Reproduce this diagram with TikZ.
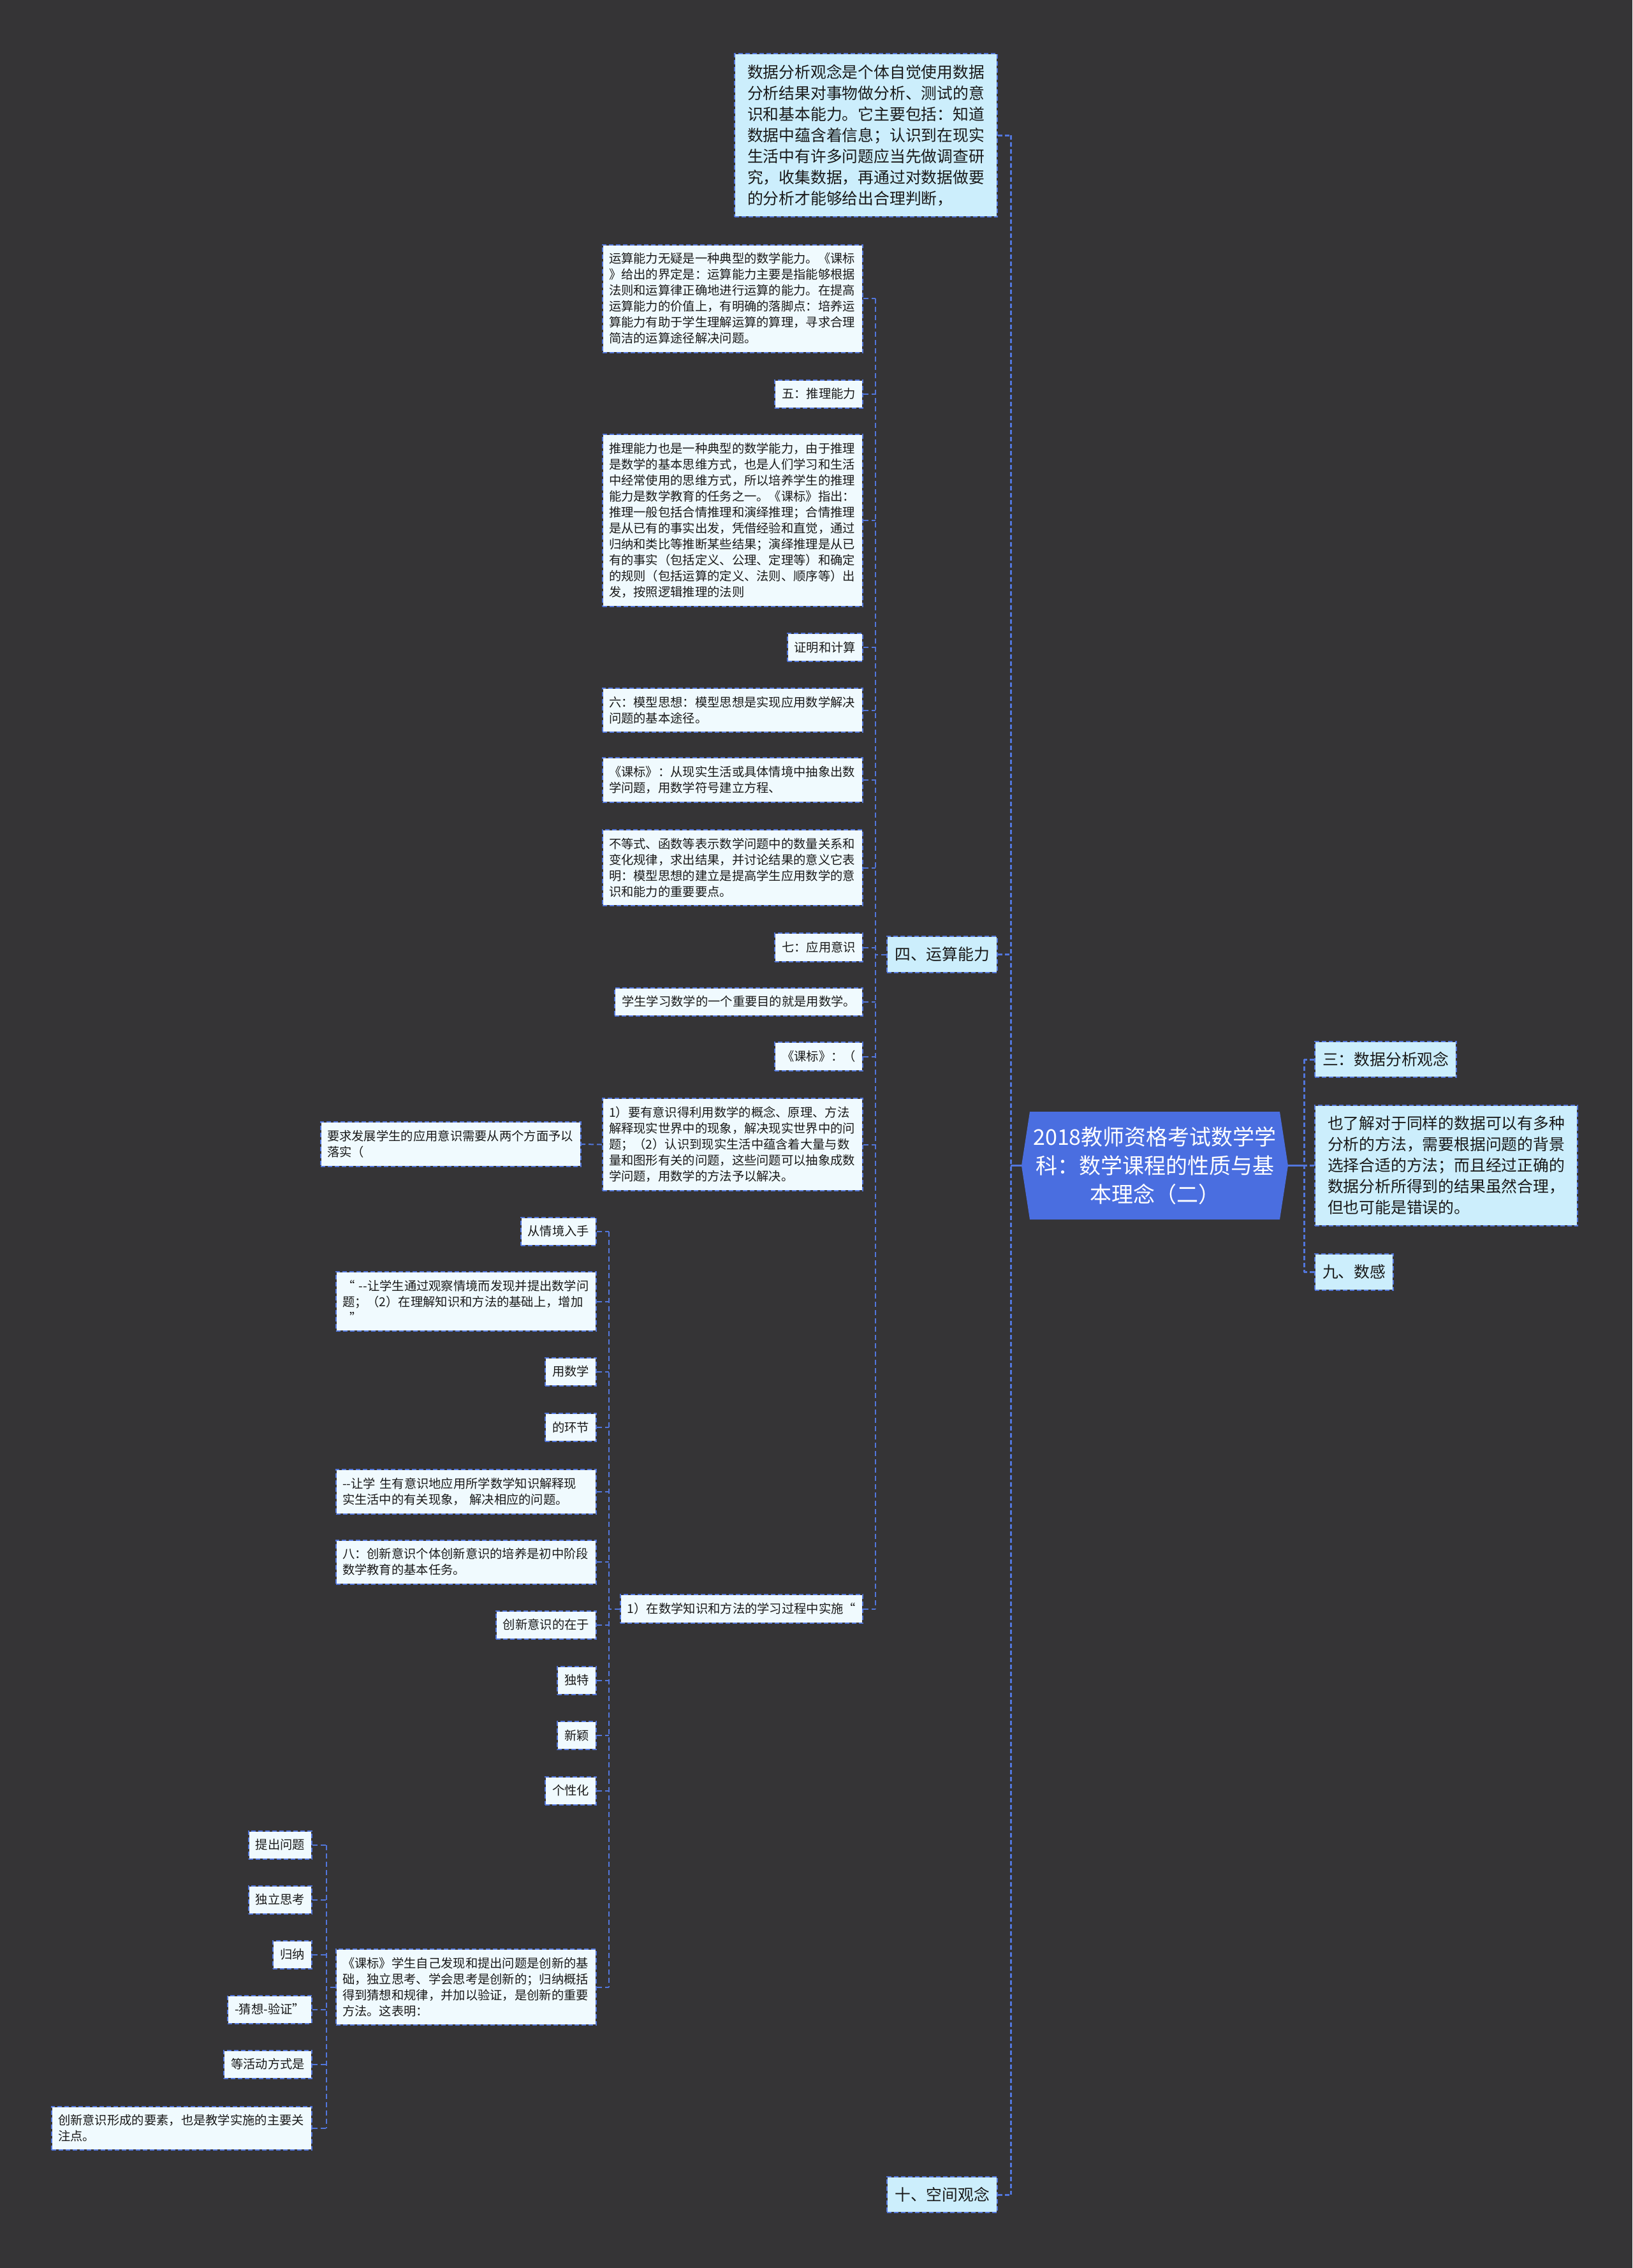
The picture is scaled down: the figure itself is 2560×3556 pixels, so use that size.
\documentclass[tikz,border=0pt]{standalone}
\usepackage{fontspec}
\setmainfont{Noto Sans CJK SC}
\definecolor{bgc}{RGB}{53,52,54}
\definecolor{lineblue}{RGB}{82,118,220}
\definecolor{rootblue}{RGB}{74,110,224}
\definecolor{bigfill}{RGB}{204,238,252}
\definecolor{smfill}{RGB}{240,250,254}
\definecolor{txt}{RGB}{25,25,25}
\begin{document}
\begin{tikzpicture}[x=0.5pt,y=-0.5pt,
  boxbase/.style={fill=#1, draw=bgc, line width=1pt, text=txt,
     postaction={draw=lineblue, line width=1pt, dash pattern=on 3.5pt off 2pt}},
  sm/.style={boxbase=smfill, font=\fontsize{9.65}{12.5}\selectfont, inner xsep=5.5pt, inner ysep=6.5pt, minimum height=22pt, align=left},
  smw/.style={sm, text width=194pt, inner xsep=5pt},
  bg/.style={boxbase=bigfill, font=\fontsize{12.4}{16.5}\selectfont, inner xsep=6pt, inner ysep=8.4pt, minimum height=28pt, align=left},
  bgw/.style={bg, text width=186pt, inner xsep=10pt},
  conn/.style={draw=lineblue, line width=1pt, dash pattern=on 4pt off 2.5pt},
  mainconn/.style={draw=lineblue, line width=1.5pt, dash pattern=on 3.5pt off 2pt},
  rootconn/.style={draw=lineblue, line width=1.5pt},
]
\fill[bgc] (0,0) rectangle (2560,3556);
\useasboundingbox (0,0) rectangle (2560,3556);

% trunk coordinates
\coordinate (tL) at (1585,0);
\coordinate (tR) at (2045,0);
\coordinate (tA) at (1373,0);
\coordinate (tC) at (955,0);
\coordinate (tD) at (512,0);

% root
\fill[rootblue] (1602,1827.5) -- (1615,1743) -- (2007,1743) -- (2020,1827.5) -- (2007,1912) -- (1615,1912) -- cycle;
\node[text=white, font=\fontsize{17}{22.5}\selectfont, align=center, minimum width=209pt, inner sep=0pt] (root) at (1811,1827.5) {2018教师资格考试数学学\\科：数学课程的性质与基\\本理念（二）};

% first level, left
\node[bgw, anchor=east] (T0) at (1565,212) {数据分析观念是个体自觉使用数据\\分析结果对事物做分析、测试的意\\识和基本能力。它主要包括：知道\\数据中蕴含着信息；认识到在现实\\生活中有许多问题应当先做调查研\\究，收集数据，再通过对数据做要\\的分析才能够给出合理判断，};
\node[bg, anchor=east] (R4) at (1565,1496.5) {四、运算能力};
\node[bg, anchor=east] (R10) at (1565,3441) {十、空间观念};

% first level, right
\node[bg, anchor=west] (E1) at (2061,1661) {三：数据分析观念};
\node[bgw, anchor=west] (E2) at (2061,1827.5) {也了解对于同样的数据可以有多种\\分析的方法，需要根据问题的背景\\选择合适的方法；而且经过正确的\\数据分析所得到的结果虽然合理，\\但也可能是错误的。};
\node[bg, anchor=west] (E3) at (2061,1994.5) {九、数感};

% children of R4
\node[smw, anchor=east] (A1) at (1354,468) {运算能力无疑是一种典型的数学能力。《课标\\》给出的界定是：运算能力主要是指能够根据\\法则和运算律正确地进行运算的能力。在提高\\运算能力的价值上，有明确的落脚点：培养运\\算能力有助于学生理解运算的算理，寻求合理\\简洁的运算途径解决问题。};
\node[sm, anchor=east] (A2) at (1354,617.5) {五：推理能力};
\node[smw, anchor=east] (A3) at (1354,816) {推理能力也是一种典型的数学能力，由于推理\\是数学的基本思维方式，也是人们学习和生活\\中经常使用的思维方式，所以培养学生的推理\\能力是数学教育的任务之一。《课标》指出：\\推理一般包括合情推理和演绎推理；合情推理\\是从已有的事实出发，凭借经验和直觉，通过\\归纳和类比等推断某些结果；演绎推理是从已\\有的事实（包括定义、公理、定理等）和确定\\的规则（包括运算的定义、法则、顺序等）出\\发，按照逻辑推理的法则};
\node[sm, anchor=east] (A4) at (1354,1015) {证明和计算};
\node[smw, anchor=east] (A5) at (1354,1113.5) {六：模型思想：模型思想是实现应用数学解决\\问题的基本途径。};
\node[smw, anchor=east] (A6) at (1354,1223) {《课标》：从现实生活或具体情境中抽象出数\\学问题，用数学符号建立方程、};
\node[smw, anchor=east] (A7) at (1354,1360.5) {不等式、函数等表示数学问题中的数量关系和\\变化规律，求出结果，并讨论结果的意义它表\\明：模型思想的建立是提高学生应用数学的意\\识和能力的重要要点。};
\node[sm, anchor=east] (A8) at (1354,1485.5) {七：应用意识};
\node[sm, anchor=east] (A9) at (1354,1570.5) {学生学习数学的一个重要目的就是用数学。};
\node[sm, anchor=east] (A10) at (1354,1656.5) {《课标》：（};
\node[smw, anchor=east] (A11) at (1354,1794.5) {1）要有意识得利用数学的概念、原理、方法\\解释现实世界中的现象，解决现实世界中的问\\题；（2）认识到现实生活中蕴含着大量与数\\量和图形有关的问题，这些问题可以抽象成数\\学问题，用数学的方法予以解决。};
\node[smw, anchor=east] (B1) at (912,1794) {要求发展学生的应用意识需要从两个方面予以\\落实（};
\node[sm, anchor=east] (A12) at (1354,2522.5) {1）在数学知识和方法的学习过程中实施“};

% children of A12
\node[sm, anchor=east] (C1) at (936,1930.5) {从情境入手};
\node[smw, anchor=east] (C2) at (936,2040.5) {“ -{}-让学生通过观察情境而发现并提出数学问\\题；（2）在理解知识和方法的基础上，增加\\\hspace*{0.6em}”};
\node[sm, anchor=east] (C3) at (936,2150.5) {用数学};
\node[sm, anchor=east] (C4) at (936,2238) {的环节};
\node[smw, anchor=east] (C5) at (936,2339) {-{}-让学 生有意识地应用所学数学知识解释现\\实生活中的有关现象， 解决相应的问题。};
\node[smw, anchor=east] (C6) at (936,2449) {八：创新意识个体创新意识的培养是初中阶段\\数学教育的基本任务。};
\node[sm, anchor=east] (C7) at (936,2547.5) {创新意识的在于};
\node[sm, anchor=east] (C8) at (936,2634.5) {独特};
\node[sm, anchor=east] (C9) at (936,2721) {新颖};
\node[sm, anchor=east] (C10) at (936,2807.5) {个性化};
\node[smw, anchor=east] (C11) at (936,3115.5) {《课标》学生自己发现和提出问题是创新的基\\础，独立思考、学会思考是创新的；归纳概括\\得到猜想和规律，并加以验证，是创新的重要\\方法。这表明：};

% children of C11
\node[sm, anchor=east] (D1) at (490,2892.5) {提出问题};
\node[sm, anchor=east] (D2) at (490,2978.5) {独立思考};
\node[sm, anchor=east] (D3) at (490,3064.5) {归纳};
\node[sm, anchor=east] (D4) at (490,3150.5) {-猜想-验证”};
\node[sm, anchor=east] (D5) at (490,3236.5) {等活动方式是};
\node[smw, anchor=east] (D6) at (490,3337) {创新意识形成的要素，也是教学实施的主要关\\注点。};

% connectors: root left
\draw[rootconn] (root.west) -- (root.west -| tL);
\draw[mainconn] (T0.east -| tL) -- (R10.east -| tL);
\foreach \n in {T0,R4,R10} \draw[mainconn] (\n.east) -- (\n.east -| tL);
% root right
\draw[rootconn] (root.east) -- (root.east -| tR);
\draw[mainconn] (E1.west -| tR) -- (E3.west -| tR);
\foreach \n in {E1,E2,E3} \draw[mainconn] (\n.west) -- (\n.west -| tR);
% R4 children
\draw[conn] (R4.west) -- (R4.west -| tA);
\draw[conn] (A1.east -| tA) -- (A12.east -| tA);
\foreach \n in {A1,A2,A3,A4,A5,A6,A7,A8,A9,A10,A11,A12} \draw[conn] (\n.east) -- (\n.east -| tA);
\draw[conn] (A11.west) -- (B1.east);
% A12 children
\draw[conn] (A12.west) -- (A12.west -| tC);
\draw[conn] (C1.east -| tC) -- (C11.east -| tC);
\foreach \n in {C1,C2,C3,C4,C5,C6,C7,C8,C9,C10,C11} \draw[conn] (\n.east) -- (\n.east -| tC);
% C11 children
\draw[conn] (C11.west) -- (C11.west -| tD);
\draw[conn] (D1.east -| tD) -- (D6.east -| tD);
\foreach \n in {D1,D2,D3,D4,D5,D6} \draw[conn] (\n.east) -- (\n.east -| tD);
\end{tikzpicture}
\end{document}
